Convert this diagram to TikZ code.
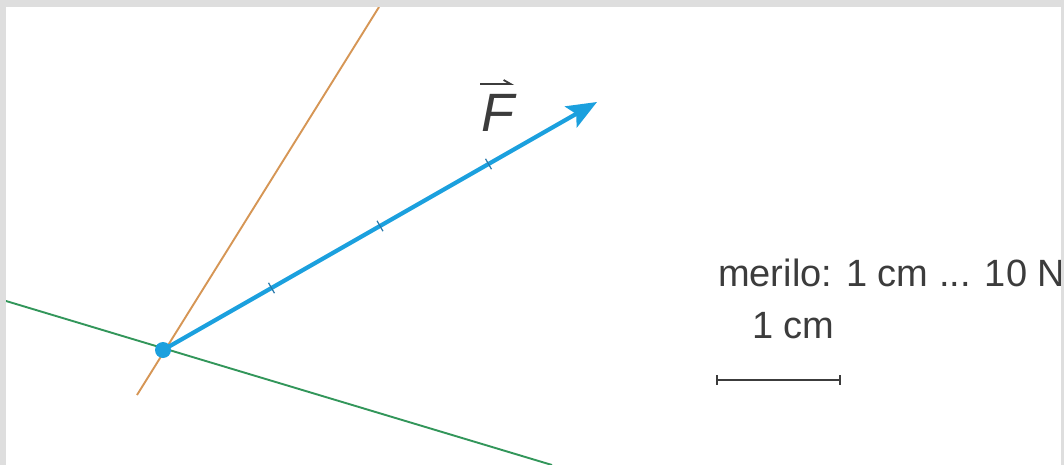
\documentclass[tikz,border=0pt]{standalone}
\usepackage{fontspec}
\setmainfont{Liberation Sans}
\usetikzlibrary{arrows.meta,calc}
\definecolor{bordergray}{RGB}{222,222,222}
\definecolor{forceblue}{RGB}{27,160,222}
\definecolor{tickblue}{RGB}{40,120,170}
\definecolor{lineorange}{RGB}{214,150,85}
\definecolor{linegreen}{RGB}{50,150,90}
\definecolor{textgray}{RGB}{60,60,60}
\tikzset{
  forceline/.style={forceblue, line width=4.2pt, -{Stealth[length=30pt,width=24pt,inset=6pt]}},
  unittick/.style={tickblue, line width=1.2pt},
  auxorange/.style={lineorange, line width=1.9pt},
  auxgreen/.style={linegreen, line width=1.9pt},
  scalebar/.style={textgray, line width=1.8pt},
  label/.style={text=textgray, font=\fontsize{38}{44}\selectfont, inner sep=0pt, anchor=base west},
}
\begin{document}
\begin{tikzpicture}[x=1pt,y=-1pt]
\useasboundingbox (0,0) rectangle (1064,465);
\fill[white] (0,0) rectangle (1064,465);
% lines of action
\coordinate (P) at (163,350);
\coordinate (oA) at (137,395);
\coordinate (oB) at (379,7);
\coordinate (gA) at (6,301);
\coordinate (gB) at (552,465);
\draw[auxorange] (oA) -- (oB);
\draw[auxgreen] (gA) -- (gB);
% force vector
\coordinate (T) at (597,102);
\foreach \k in {1,2,3} {
  \coordinate (m\k) at ($(P)!\k/4!(T)$);
}
\draw[forceline] (P) -- (T);
\foreach \k in {1,2,3} {
  \draw[unittick] ($(m\k)!6pt!90:(T)$) -- ($(m\k)!6pt!-90:(T)$);
}
\fill[forceblue] (P) circle (8pt);
% label F
\node[text=textgray, font=\fontsize{54}{60}\selectfont\itshape, inner sep=0pt, anchor=base west] (F) at (481,132) {F};
\coordinate (fa) at (480,84);
\coordinate (fb) at (514,84);
\draw[textgray, line width=1.8pt, -{Straight Barb[left, length=7pt, width=8pt]}] (fa) -- (fb);
% scale
\node[label] (merilo) at (718,286) {merilo: 1 cm ... 10 N};
\node[label] (onecm) at (752,338) {1 cm};
\coordinate (s1) at (717,380);
\coordinate (s2) at (840,380);
\draw[scalebar] (s1) -- (s2);
\draw[scalebar] ($(s1)+(0,-5)$) -- ($(s1)+(0,5)$);
\draw[scalebar] ($(s2)+(0,-5)$) -- ($(s2)+(0,5)$);
% grey border
\fill[bordergray] (0,0) rectangle (1064,7);
\fill[bordergray] (0,0) rectangle (6,465);
\fill[bordergray] (1061,0) rectangle (1064,465);
\end{tikzpicture}
\end{document}
